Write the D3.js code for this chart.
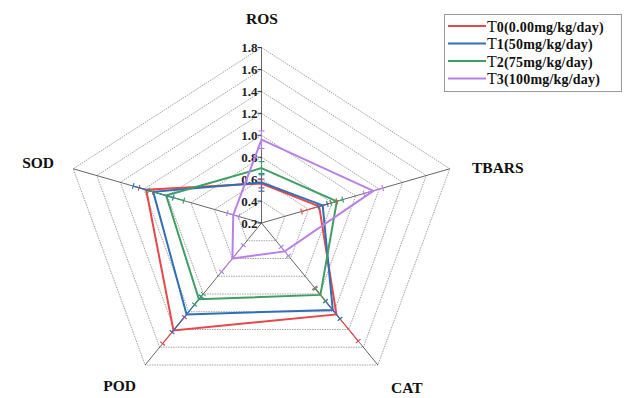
<!DOCTYPE html>
<html>
<head>
<meta charset="utf-8">
<script src="https://cdn.jsdelivr.net/npm/d3@7"></script>
<style>
  html, body { margin: 0; padding: 0; background: #fff; }
  svg { display: block; }
  text { font-family: "Liberation Serif", "Times New Roman", serif; font-weight: bold; }
</style>
</head>
<body>
<svg id="chart" width="624" height="398"></svg>
<script>
// Oxidative stress indicators per treatment group
const indicators = ["ROS", "TBARS", "CAT", "POD", "SOD"];
const groups = ["0(0.00mg/kg/day)", "1(50mg/kg/day)", "2(75mg/kg/day)", "3(100mg/kg/day)"];
const colors = ["#e8474a", "#2f6fb8", "#3d9f63", "#bb80e8"];

const t0Values = [0.56, 0.69, 1.23, 1.41, 1.18];
const t1Values = [0.57, 0.72, 1.18, 1.23, 1.12];
const t2Values = [0.70, 0.84, 1.01, 1.06, 1.01];
const t3Values = [0.96, 1.15, 0.52, 0.60, 0.44];

const t0Errors = [0.04, 0.15, 0.30, 0.15, 0.06];
const t1Errors = [0.08, 0.04, 0.10, 0.20, 0.17];
const t2Errors = [0.06, 0.05, 0.07, 0.06, 0.15];
const t3Errors = [0.08, 0.08, 0.05, 0.15, 0.05];

const radialTicks = [0.2, 0.4, 0.6, 0.8, 1.0, 1.2, 1.4, 1.6, 1.8];

const seriesValues = [t0Values, t1Values, t2Values, t3Values];
const seriesErrors = [t0Errors, t1Errors, t2Errors, t3Errors];

const svg = d3.select("#chart");
const cx = 261.5, cy = 223, rx = 198, ry = 175.5;

const r = d3.scaleLinear().domain([0.2, 1.8]).range([0, 1]);
const angle = d3.scaleLinear().domain([0, indicators.length]).range([-Math.PI / 2, 1.5 * Math.PI]);

function pt(i, v) {
  const a = angle(i), f = r(v);
  return [cx + rx * f * Math.cos(a), cy + ry * f * Math.sin(a)];
}
function dir(i) {
  const a = angle(i);
  const dx = rx * Math.cos(a), dy = ry * Math.sin(a);
  const n = Math.hypot(dx, dy);
  return [dx / n, dy / n];
}

const closed = d3.line().curve(d3.curveLinearClosed);

// grid rings
const grid = svg.append("g");
radialTicks.slice(1).forEach(t => {
  grid.append("path")
    .attr("d", closed(indicators.map((_, i) => pt(i, t))))
    .attr("fill", "none")
    .attr("stroke", "#8a8a8a")
    .attr("stroke-width", 0.8)
    .attr("stroke-dasharray", "1.5,1");
});

// spokes
indicators.forEach((_, i) => {
  const [x, y] = pt(i, 1.8);
  grid.append("line")
    .attr("x1", cx).attr("y1", cy).attr("x2", x).attr("y2", y)
    .attr("stroke", "#555").attr("stroke-width", 0.9);
});

// radial axis ticks on the ROS spoke
const axisG = svg.append("g");
radialTicks.forEach(t => {
  const [x, y] = pt(0, t);
  axisG.append("line")
    .attr("x1", x - 4).attr("x2", x).attr("y1", y).attr("y2", y)
    .attr("stroke", "#333").attr("stroke-width", 1);
  axisG.append("text")
    .attr("x", x - 4).attr("y", y + 4.5)
    .attr("text-anchor", "end")
    .attr("font-size", 13)
    .attr("fill", "#222")
    .text(t.toFixed(1));
});

// series polygons
seriesValues.forEach((vals, s) => {
  svg.append("path")
    .attr("d", closed(vals.map((v, i) => pt(i, v))))
    .attr("fill", "none")
    .attr("stroke", colors[s])
    .attr("stroke-width", 2)
    .attr("stroke-linejoin", "miter");
});

// error bars along each spoke
seriesValues.forEach((vals, s) => {
  const g = svg.append("g").attr("stroke", colors[s]).attr("stroke-width", 1.2);
  vals.forEach((v, i) => {
    const e = seriesErrors[s][i];
    const [x1, y1] = pt(i, v - e);
    const [x2, y2] = pt(i, v + e);
    const [ux, uy] = dir(i);
    const px = -uy * 3, py = ux * 3;
    g.append("line").attr("x1", x1).attr("y1", y1).attr("x2", x2).attr("y2", y2);
    [[x1, y1], [x2, y2]].forEach(([x, y]) => {
      g.append("line")
        .attr("x1", x - px).attr("y1", y - py)
        .attr("x2", x + px).attr("y2", y + py);
    });
  });
});

// indicator labels
const labelPos = [
  { x: 262, y: 24, anchor: "middle" },
  { x: 472, y: 173, anchor: "start" },
  { x: 391, y: 393, anchor: "start" },
  { x: 136, y: 391, anchor: "end" },
  { x: 54, y: 168, anchor: "end" }
];
indicators.forEach((name, i) => {
  svg.append("text")
    .attr("x", labelPos[i].x).attr("y", labelPos[i].y)
    .attr("text-anchor", labelPos[i].anchor)
    .attr("font-size", 15.5)
    .attr("fill", "#111")
    .text(name);
});

// legend
const legend = svg.append("g");
legend.append("rect")
  .attr("x", 444.5).attr("y", 14.5).attr("width", 177).attr("height", 77)
  .attr("fill", "#fff").attr("stroke", "#999").attr("stroke-width", 1);
groups.forEach((g, k) => {
  const y = 26 + k * 17.5;
  legend.append("line")
    .attr("x1", 448).attr("x2", 486).attr("y1", y).attr("y2", y)
    .attr("stroke", colors[k]).attr("stroke-width", 2);
  const t = legend.append("text")
    .attr("x", 487).attr("y", y + 5.5)
    .attr("fill", "#111");
  t.append("tspan").attr("font-size", 16).attr("font-weight", "normal").text("T");
  t.append("tspan").attr("font-size", 14).attr("letter-spacing", 0.2).text(g);
});
</script>
</body>
</html>
